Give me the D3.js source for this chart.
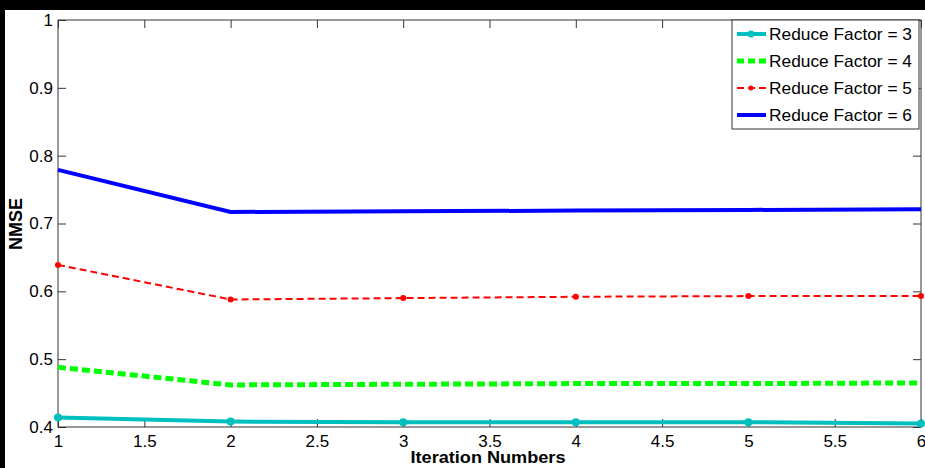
<html>
<head>
  <script src="https://d3js.org/d3.v7.min.js"></script>
  <style>
    body { margin: 0; background: #000; }
    svg { display: block; }
    text { font-family: "Liberation Sans", Arial, sans-serif; }
  </style>
</head>
<body>
  <div id="chart"></div>
  <script>
    const iterations = [1, 2, 3, 4, 5, 6];
    const rf3 = [0.414, 0.408, 0.407, 0.407, 0.407, 0.405];
    const rf4 = [0.488, 0.462, 0.463, 0.464, 0.464, 0.465];
    const rf5 = [0.639, 0.588, 0.590, 0.592, 0.593, 0.593];
    const rf6 = [0.779, 0.717, 0.718, 0.719, 0.720, 0.721];
    const seriesNames = ["Reduce Factor = 3", "Reduce Factor = 4", "Reduce Factor = 5", "Reduce Factor = 6"];
    const xTicks = [1, 1.5, 2, 2.5, 3, 3.5, 4, 4.5, 5, 5.5, 6];
    const yTicks = [0.4, 0.5, 0.6, 0.7, 0.8, 0.9, 1];

    const w = 925, h = 468;
    const pLeft = 58, pRight = 921, pTop = 20, pBottom = 427;

    const svg = d3.select("#chart").append("svg")
      .attr("width", w)
      .attr("height", h);

    // white figure area inside the black border
    svg.append("rect")
      .attr("x", 5).attr("y", 10)
      .attr("width", w - 5).attr("height", h - 10)
      .style("fill", "#fff");

    const x = d3.scaleLinear().domain([1, 6]).range([pLeft, pRight]);
    const y = d3.scaleLinear().domain([0.4, 1]).range([pBottom, pTop]);

    const series = [
      { name: seriesNames[0], values: rf3, color: "#00bfbf", width: 4, dash: null, marker: 4 },
      { name: seriesNames[1], values: rf4, color: "#00ff00", width: 5, dash: "8,4", marker: 0 },
      { name: seriesNames[2], values: rf5, color: "#ff0000", width: 2, dash: "7,4", marker: 3 },
      { name: seriesNames[3], values: rf6, color: "#0000ff", width: 4, dash: null, marker: 0 }
    ];

    // axes (box with mirrored ticks)
    const tickLen = 8;
    svg.append("g")
      .attr("transform", "translate(0," + pBottom + ")")
      .call(d3.axisBottom(x).tickValues(xTicks).tickSize(-tickLen).tickPadding(8).tickFormat(d3.format("")))
      .call(g => g.select(".domain").remove());
    svg.append("g")
      .attr("transform", "translate(0," + pTop + ")")
      .call(d3.axisTop(x).tickValues(xTicks).tickSize(-tickLen).tickFormat(""))
      .call(g => g.select(".domain").remove());
    svg.append("g")
      .attr("transform", "translate(" + pLeft + ",0)")
      .call(d3.axisLeft(y).tickValues(yTicks).tickSize(-tickLen).tickPadding(5).tickFormat(d3.format("")))
      .call(g => g.select(".domain").remove());
    svg.append("g")
      .attr("transform", "translate(" + pRight + ",0)")
      .call(d3.axisRight(y).tickValues(yTicks).tickSize(-tickLen).tickFormat(""))
      .call(g => g.select(".domain").remove());

    svg.selectAll(".tick line").style("stroke", "#333");
    svg.selectAll(".tick text").style("font-size", "17px").style("fill", "#000")
      .style("font-family", "'Liberation Sans', Arial, sans-serif");

    svg.append("rect")
      .attr("x", pLeft).attr("y", pTop)
      .attr("width", pRight - pLeft).attr("height", pBottom - pTop)
      .style("fill", "none").style("stroke", "#333").style("stroke-width", 1);

    const line = d3.line()
      .x((d, i) => x(iterations[i]))
      .y(d => y(d));

    series.forEach(s => {
      svg.append("path")
        .datum(s.values)
        .attr("d", line)
        .style("fill", "none")
        .style("stroke", s.color)
        .style("stroke-width", s.width)
        .style("stroke-dasharray", s.dash);
      if (s.marker) {
        svg.selectAll(null)
          .data(s.values)
          .enter()
          .append("circle")
          .attr("cx", (d, i) => x(iterations[i]))
          .attr("cy", d => y(d))
          .attr("r", s.marker)
          .style("fill", s.color);
      }
    });

    // legend
    const legend = svg.append("g");
    legend.append("rect")
      .attr("x", 732).attr("y", pTop)
      .attr("width", 187).attr("height", 109)
      .style("fill", "#fff").style("stroke", "#333");

    const item = legend.selectAll(".legend")
      .data(series)
      .enter()
      .append("g")
      .attr("transform", (d, i) => "translate(0," + (34 + i * 27) + ")");
    item.append("line")
      .attr("x1", 737).attr("x2", 766)
      .style("stroke", d => d.color)
      .style("stroke-width", d => d.width)
      .style("stroke-dasharray", d => d.dash ? "7,4" : null);
    item.filter(d => d.marker).append("circle")
      .attr("cx", 751).attr("r", d => d.marker - 0.5)
      .style("fill", d => d.color);
    item.append("text")
      .attr("x", 769)
      .attr("dy", "0.36em")
      .attr("textLength", 143)
      .attr("lengthAdjust", "spacingAndGlyphs")
      .style("font-size", "17px")
      .text(d => d.name);

    // axis titles
    svg.append("text")
      .attr("x", 488).attr("y", 463)
      .style("text-anchor", "middle")
      .style("font-size", "17px")
      .style("font-weight", "bold")
      .attr("textLength", 155)
      .attr("lengthAdjust", "spacingAndGlyphs")
      .text("Iteration Numbers");
    svg.append("text")
      .attr("transform", "translate(22,224) rotate(-90)")
      .style("text-anchor", "middle")
      .style("font-size", "18px")
      .style("font-weight", "bold")
      .text("NMSE");
  </script>
</body>
</html>
